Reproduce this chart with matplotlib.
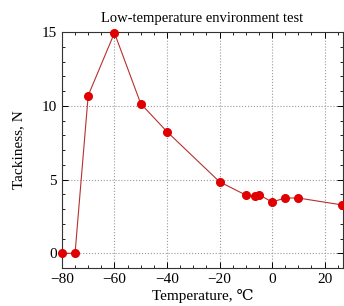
import matplotlib.pyplot as plt
from matplotlib.ticker import MultipleLocator

temps = [-80, -75, -70, -60, -50, -40, -20, -10, -6.5, -5, 0, 5, 10, 26.7]
tack = [0, 0, 10.7, 14.95, 10.15, 8.25, 4.85, 3.95, 3.88, 3.98, 3.48, 3.75, 3.75, 3.28]

plt.rcParams['font.family'] = ['Liberation Serif', 'DejaVu Serif']

fig = plt.figure(figsize=(3.44, 3.06), dpi=100)
ax = fig.add_axes([0.180, 0.124, 0.817, 0.771])

ax.plot(temps, tack, '-', color='#b83030', lw=0.8, zorder=2)
ax.plot(temps, tack, 'o', color='#e00000', ms=5.5, zorder=3, clip_on=False)

ax.set_xlim(-80, 27)
ax.set_ylim(-1, 15)
ax.xaxis.set_major_locator(MultipleLocator(20))
ax.xaxis.set_minor_locator(MultipleLocator(5))
ax.yaxis.set_major_locator(MultipleLocator(5))
ax.yaxis.set_minor_locator(MultipleLocator(1))
ax.tick_params(which='both', direction='in', top=True, right=True, labelsize=11)
ax.tick_params(which='major', length=4, width=0.7)
ax.tick_params(which='minor', length=2, width=0.6)
ax.grid(True, which='major', color='#999999', ls=':', lw=0.8)
for s in ax.spines.values():
    s.set_linewidth(0.8)
    s.set_color('#333333')

ax.set_xlabel('Temperature, \u2103', fontsize=11, labelpad=2)
ax.set_ylabel('Tackiness, N', fontsize=11, labelpad=12)
ax.set_title('Low-temperature environment test', fontsize=10.5, pad=7)

fig.savefig('out.png', dpi=100)
